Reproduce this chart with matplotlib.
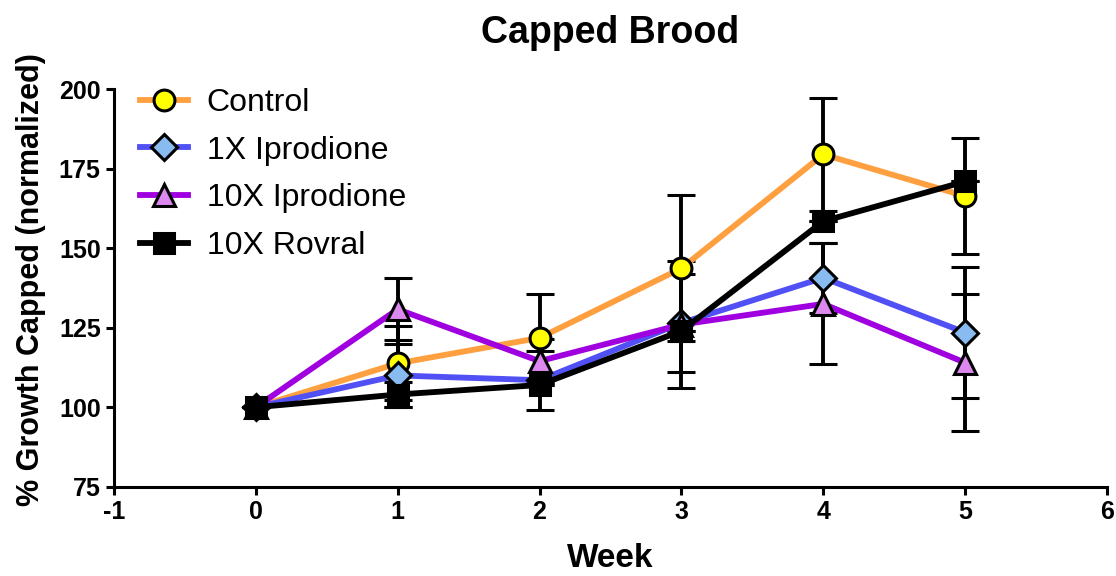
import matplotlib
matplotlib.use("Agg")
import matplotlib.pyplot as plt

plt.rcParams['font.family'] = ['Liberation Sans', 'DejaVu Sans']
plt.rcParams['axes.unicode_minus'] = False

weeks = [0, 1, 2, 3, 4, 5]

control = [100, 113.8, 121.8, 143.7, 179.5, 166.4]
control_err = [0, 11.6, 13.8, 23.0, 17.8, 18.3]

iprod_1x = [100, 110.0, 108.5, 126.5, 140.7, 123.5]
iprod_1x_err = [0, 10.0, 9.3, 15.3, 11.0, 20.6]

iprod_10x = [100, 130.8, 114.5, 126.0, 132.5, 114.0]
iprod_10x_err = [0, 9.8, 7.0, 20.0, 19.0, 21.5]

rovral = [100, 104.0, 107.0, 124.0, 158.5, 171.0]
rovral_err = [0, 4.0, 0, 0, 0, 0]

labels = ['Control', '1X Iprodione', '10X Iprodione', '10X Rovral']

fig = plt.figure(figsize=(11.16, 5.76), dpi=100)
ax = fig.add_axes([0.102, 0.155, 0.890, 0.690])

# line colour, marker, marker face, marker size
series = [
    (control, control_err, '#FFA040', 'o', '#FFFF00', 15),
    (iprod_1x, iprod_1x_err, '#5050F5', 'D', '#88BBF0', 13),
    (iprod_10x, iprod_10x_err, '#A000E0', '^', '#DD88EE', 16),
    (rovral, rovral_err, 'black', 's', 'black', 14),
]

for (vals, errs, col, mk, face, ms), lab in zip(series, labels):
    ax.errorbar(weeks, vals, yerr=errs, color=col, lw=4.2, marker=mk,
                markersize=ms, markerfacecolor=face, markeredgecolor='black',
                markeredgewidth=2.2, ecolor='black', elinewidth=2.8,
                capsize=10, capthick=2.8, label=lab)

ax.set_xlim(-1, 6)
ax.set_ylim(75, 200)
ax.set_xticks(range(-1, 7))
ax.set_yticks(range(75, 201, 25))

for s in ['top', 'right']:
    ax.spines[s].set_visible(False)
for s in ['left', 'bottom']:
    ax.spines[s].set_linewidth(2.2)
ax.tick_params(width=2.2, length=6, labelsize=18)
for t in ax.get_xticklabels() + ax.get_yticklabels():
    t.set_fontweight('bold')

ax.set_title('Capped Brood', fontsize=27, fontweight='bold', pad=33)
ax.set_xlabel('Week', fontsize=24, fontweight='bold', labelpad=14)
ax.set_ylabel('% Growth Capped (normalized)', fontsize=22, fontweight='bold')
ax.yaxis.set_label_coords(-0.068, 0.522)

handles, labs = ax.get_legend_handles_labels()
handles = [h[0] for h in handles]
ax.legend(handles, labs, loc='upper left', bbox_to_anchor=(0.026, 1.004),
          frameon=False, fontsize=23, handlelength=1.5, handletextpad=0.6,
          labelspacing=0.56, borderaxespad=0, borderpad=0)

fig.savefig('out.png', dpi=100)
